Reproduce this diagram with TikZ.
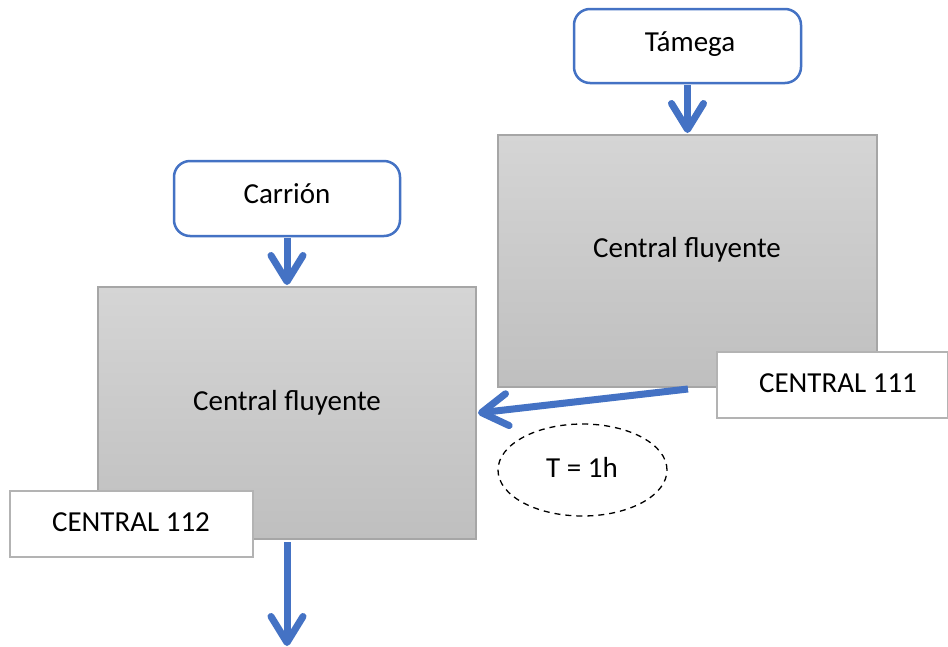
\documentclass[tikz,border=0pt]{standalone}
\usepackage{fontspec}
\setmainfont{Carlito}
\usetikzlibrary{arrows.meta}
\definecolor{wblue}{HTML}{4472C4}
\definecolor{gborder}{HTML}{A6A6A6}
\definecolor{gtop}{HTML}{D5D5D5}
\definecolor{gbot}{HTML}{BFBFBF}
\begin{document}
\begin{tikzpicture}[x=1pt,y=-1pt,
  every node/.style={font=\fontsize{29}{35}\selectfont, inner sep=0pt},
  source/.style={draw=wblue, line width=2.5pt, rounded corners=16pt, fill=white},
  plant/.style={draw=gborder, line width=2pt, top color=gtop, bottom color=gbot},
  tag/.style={draw=gborder!85, line width=2.5pt, fill=white},
  flow/.style={draw=wblue, line width=7pt, -{Straight Barb[length=26pt,width=32pt,round]}}
]
\useasboundingbox (0,0) rectangle (948,646);
\fill[white] (0,0) rectangle (948,646);
% sources
\node[source, minimum width=227pt, minimum height=74pt] (tamega) at (687.5,46) {};
\node at (690,44) {Támega};
\node[source, minimum width=226pt, minimum height=75pt] (carrion) at (287,198.5) {};
\node at (287,194) {Carrión};
% plants
\node[plant, minimum width=379pt, minimum height=252pt] (p1) at (687.5,261) {};
\node at (687,250) {Central fluyente};
\node[plant, minimum width=378pt, minimum height=252pt] (p2) at (287,413) {};
\node at (287,403) {Central fluyente};
% tags
\node[tag, minimum width=231pt, minimum height=66pt] (t111) at (832.5,385) {};
\node at (838,383) {CENTRAL 111};
\node[tag, minimum width=243pt, minimum height=66pt] (t112) at (131.5,524) {};
\node at (131,522) {CENTRAL 112};
% timer
\draw[black, line width=1.3pt, dash pattern=on 6pt off 5pt] (582.5,470) ellipse [x radius=84.5pt, y radius=46pt];
\node (tt) at (582,467) {T = 1h};
% flows
\coordinate (out1) at (688,389);
\coordinate (out2) at (287,646);
\draw[flow] ([yshift=-1pt]tamega.south) -- ([yshift=1pt]p1.north);
\draw[flow] ([yshift=-1pt]carrion.south) -- ([yshift=1pt]p2.north);
\draw[flow] (out1) -- ([xshift=1pt]p2.east);
\draw[flow] ([yshift=-2pt]p2.south) -- (out2);
\end{tikzpicture}
\end{document}
